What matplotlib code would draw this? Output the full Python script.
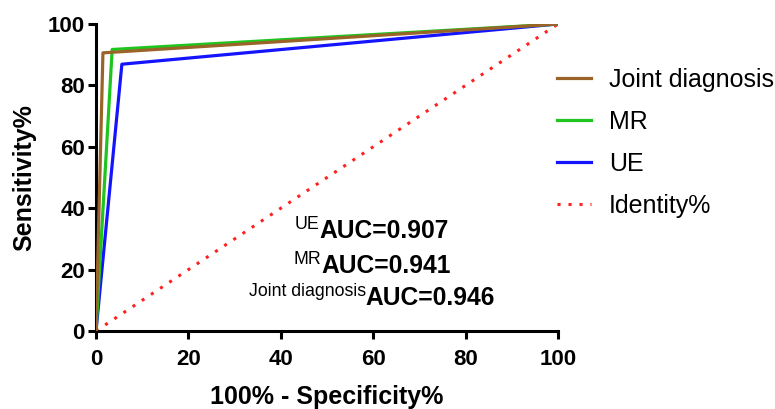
import matplotlib
matplotlib.use("Agg")
import matplotlib.pyplot as plt
from matplotlib.transforms import offset_copy

# ROC points (100% - specificity, sensitivity)
joint_x = [0, 1.5, 100]
joint_y = [0, 90.6, 100]
mr_x = [0, 3.5, 100]
mr_y = [0, 91.7, 100]
ue_x = [0, 5.6, 100]
ue_y = [0, 86.9, 100]
ident = [0, 100]

auc_labels = ["UE", "MR", "Joint diagnosis"]
auc_values = [0.907, 0.941, 0.946]

plt.rcParams["font.family"] = ["Liberation Sans", "DejaVu Sans"]

fig = plt.figure(figsize=(7.75, 4.09), dpi=100)
ax = fig.add_axes([96 / 775, 1 - 331 / 409, 462 / 775, 307 / 409])

ax.plot(joint_x, joint_y, color="#9a6428", lw=2.3, label="Joint diagnosis", zorder=4)
ax.plot(mr_x, mr_y, color="#1fc41f", lw=2.3, label="MR", zorder=3)
ax.plot(ue_x, ue_y, color="#1414ff", lw=2.3, label="UE", zorder=2)
ax.plot(ident, ident, color="#ff2020", lw=2.2, ls=(0, (1, 2.6)), label="Identity%", zorder=1)

ax.set_xlim(0, 100)
ax.set_ylim(0, 100)
ax.set_xticks([0, 20, 40, 60, 80, 100])
ax.set_yticks([0, 20, 40, 60, 80, 100])
for s in ["top", "right"]:
    ax.spines[s].set_visible(False)
for s in ["left", "bottom"]:
    ax.spines[s].set_linewidth(2.2)
ax.tick_params(width=2.2, length=6, labelsize=16)
ax.tick_params(axis="x", pad=7)
ax.tick_params(axis="y", pad=2)
for lbl in ax.get_xticklabels() + ax.get_yticklabels():
    lbl.set_fontweight("bold")
ax.set_xlabel("100% - Specificity%", fontsize=18, fontweight="bold", labelpad=11)
ax.set_ylabel("Sensitivity%", fontsize=18, fontweight="bold", labelpad=8)

ax.legend(loc="upper left", bbox_to_anchor=(0.998, 0.857), frameon=False, fontsize=18,
          handlelength=1.36, labelspacing=0.72, handletextpad=0.72,
          borderpad=0, borderaxespad=0)

# AUC annotations: small regular prefix raised, bold AUC text; each line centred
renderer = fig.canvas.get_renderer()
ypos = [0.303, 0.189, 0.085]
cx = 0.597
for name, val, yy in zip(auc_labels, auc_values, ypos):
    sup = ax.text(cx, yy, name, fontsize=12.8, va="baseline", transform=ax.transAxes)
    main = ax.text(cx, yy, f"AUC={val:.3f}", fontsize=17.7, fontweight="bold",
                   va="baseline", transform=ax.transAxes)
    w_sup = sup.get_window_extent(renderer).width
    w_main = main.get_window_extent(renderer).width
    total = w_sup + w_main
    sup.set_transform(offset_copy(ax.transAxes, fig=fig, x=-total / 2, y=9, units="dots"))
    main.set_transform(offset_copy(ax.transAxes, fig=fig, x=-total / 2 + w_sup, y=0, units="dots"))

fig.savefig("out.png", dpi=100)
